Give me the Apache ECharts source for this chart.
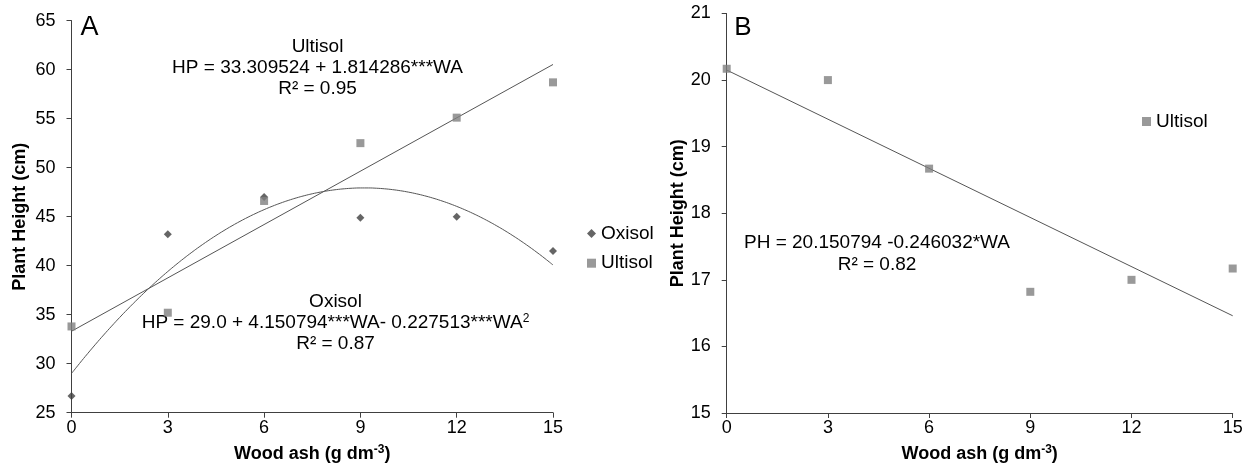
<!DOCTYPE html>
<html>
<head>
<meta charset="utf-8">
<script src="https://cdn.jsdelivr.net/npm/echarts@6/dist/echarts.min.js"></script>
<style>
  html, body { margin: 0; padding: 0; background: #fff; }
  #chart { width: 1252px; height: 476px; }
</style>
</head>
<body>
<div id="chart"></div>
<script>
// 数据
const woodAsh = [0, 3, 6, 9, 12, 15];
const oxisolA = [26.7, 43.2, 47.0, 44.9, 45.0, 41.5];
const ultisolA = [33.8, 35.2, 46.6, 52.5, 55.1, 58.7];
const ultisolB = [20.17, 20.0, 18.67, 16.82, 17.0, 17.17];
// 回归系数（图中标注的方程）
const coefUltA = [33.309524, 1.814286];
const coefOxiA = [29.0, 4.150794, -0.227513];
const coefUltB = [20.150794, -0.246032];

function pairs(xs, ys) {
    return xs.map((x, i) => [x, ys[i]]);
}
function poly(c, x) {
    let y = 0;
    for (let i = 0; i < c.length; i++) y += c[i] * Math.pow(x, i);
    return y;
}
// 趋势线取点
function curve(c, steps) {
    let out = [];
    for (let i = 0; i <= steps; i++) {
        let x = 15 * i / steps;
        out.push([x, poly(c, x)]);
    }
    return out;
}

const font = 'Liberation Sans, Arial, sans-serif';
const axisCol = '#404040';

function xAx(idx) {
    return {
        gridIndex: idx, type: 'value', min: 0, max: 15, interval: 3,
        name: 'Wood ash (g dm{s|-3})',
        nameLocation: 'middle', nameGap: 31,
        nameTextStyle: {
            fontFamily: font, fontSize: 18, fontWeight: 'bold', color: '#000',
            rich: { s: { fontFamily: font, fontSize: 12, fontWeight: 'bold', color: '#000', verticalAlign: 'top', padding: [0, 0, 9, 0] } }
        },
        axisLine: { lineStyle: { color: axisCol, width: 1 } },
        axisTick: { show: true, length: 5, lineStyle: { color: axisCol } },
        axisLabel: { fontFamily: font, fontSize: 18, color: '#000', margin: 6 },
        splitLine: { show: false }
    };
}
function yAx(idx, min, max, step, gap) {
    return {
        gridIndex: idx, type: 'value', min: min, max: max, interval: step,
        name: 'Plant Height (cm)',
        nameLocation: 'middle', nameGap: gap, nameRotate: 90,
        nameTextStyle: { fontFamily: font, fontSize: 18, fontWeight: 'bold', color: '#000' },
        axisLine: { show: true, lineStyle: { color: axisCol, width: 1 } },
        axisTick: { show: true, length: 5, lineStyle: { color: axisCol } },
        axisLabel: { fontFamily: font, fontSize: 18, color: '#000', margin: 16 },
        splitLine: { show: false }
    };
}
function label(x, y, text, size, rich) {
    return {
        type: 'text', x: x, y: y,
        style: {
            text: text, fontFamily: font, fontSize: size || 19, fill: '#000',
            align: 'center', verticalAlign: 'middle', rich: rich
        }
    };
}
const eqRich = {
    n: { fontFamily: font, fontSize: 19, fill: '#000' },
    s: { fontFamily: font, fontSize: 12, fill: '#000', verticalAlign: 'top', padding: [0, 0, 9, 0] }
};

let chart = echarts.init(document.getElementById('chart'));
let option = {
    animation: false,
    backgroundColor: '#fff',
    grid: [
        { left: 71.5, right: 699, top: 20.6, bottom: 63.3 },
        { left: 726.7, right: 19.3, top: 13.5, bottom: 63 }
    ],
    xAxis: [xAx(0), xAx(1)],
    yAxis: [yAx(0, 25, 65, 5, 42.5), yAx(1, 15, 21, 1, 30)],
    legend: [
        {
            left: 587, top: 224, padding: 0, orient: 'vertical', itemGap: 10.7,
            itemWidth: 9, itemHeight: 9,
            textStyle: { fontFamily: font, fontSize: 19, color: '#000' },
            data: [
                { name: 'Oxisol', icon: 'diamond', itemStyle: { color: '#3f3f3f' } },
                { name: 'Ultisol', icon: 'rect', itemStyle: { color: '#808080' } }
            ],
            selectedMode: false
        },
        {
            left: 1142, top: 112, padding: 0, itemWidth: 9, itemHeight: 9,
            textStyle: { fontFamily: font, fontSize: 19, color: '#000' },
            data: [{ name: 'Ultisol', icon: 'rect', itemStyle: { color: '#808080' } }],
            selectedMode: false
        }
    ],
    graphic: [
        label(89.5, 28, 'A', 27),
        label(317.5, 46.5, 'Ultisol'),
        label(317.5, 67.5, 'HP = 33.309524 + 1.814286***WA'),
        label(317.5, 88.5, 'R² = 0.95'),
        label(335.5, 301.7, 'Oxisol'),
        label(335.5, 323, '{n|HP = 29.0 + 4.150794***WA- 0.227513***WA}{s|2}', 19, eqRich),
        label(335.5, 344, 'R² = 0.87'),
        label(743, 28, 'B', 26),
        label(877, 243, 'PH = 20.150794 -0.246032*WA'),
        label(877, 265, 'R² = 0.82')
    ],
    series: [
        {
            name: 'Ultisol fit', type: 'line', xAxisIndex: 0, yAxisIndex: 0,
            data: curve(coefUltA, 1), symbol: 'none', silent: true,
            lineStyle: { color: '#555', width: 1 }, z: 1
        },
        {
            name: 'Oxisol fit', type: 'line', xAxisIndex: 0, yAxisIndex: 0,
            data: curve(coefOxiA, 60), symbol: 'none', smooth: true, silent: true,
            lineStyle: { color: '#555', width: 1 }, z: 1
        },
        {
            name: 'Oxisol', type: 'scatter', xAxisIndex: 0, yAxisIndex: 0,
            data: pairs(woodAsh, oxisolA), symbol: 'diamond', symbolSize: 8,
            itemStyle: { color: '#3f3f3f' }, z: 3
        },
        {
            name: 'Ultisol', type: 'scatter', xAxisIndex: 0, yAxisIndex: 0,
            data: pairs(woodAsh, ultisolA), symbol: 'rect', symbolSize: 8,
            itemStyle: { color: '#808080' }, z: 3
        },
        {
            name: 'Ultisol B fit', type: 'line', xAxisIndex: 1, yAxisIndex: 1,
            data: curve(coefUltB, 1), symbol: 'none', silent: true,
            lineStyle: { color: '#555', width: 1 }, z: 1
        },
        {
            name: 'Ultisol', type: 'scatter', xAxisIndex: 1, yAxisIndex: 1,
            data: pairs(woodAsh, ultisolB), symbol: 'rect', symbolSize: 8,
            itemStyle: { color: '#808080' }, z: 3
        }
    ]
};
chart.setOption(option);
</script>
</body>
</html>
